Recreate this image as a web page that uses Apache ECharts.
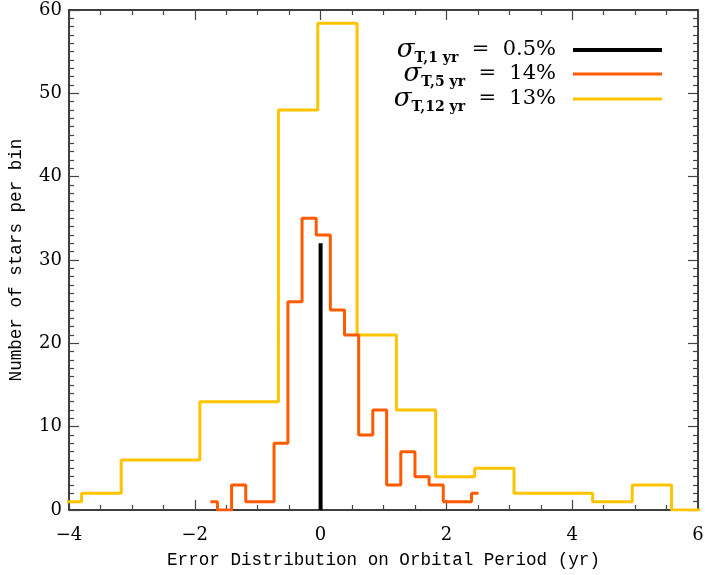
<!DOCTYPE html>
<html>
<head>
<meta charset="utf-8">
<script src="https://cdn.jsdelivr.net/npm/echarts@6/dist/echarts.min.js"></script>
<style>html,body{margin:0;padding:0;background:#fff}#c{width:705px;height:575px}</style>
</head>
<body>
<div id="c"></div>
<script>
// 12-yr sample histogram (bin centres, counts)
const yellowCenters = [-4.11, -3.49, -2.85, -2.23, -1.61, -0.98, -0.36, 0.27, 0.89, 1.52, 2.14, 2.76, 3.39, 4.01, 4.64, 5.27, 5.89, 6.51];
const yellowCounts  = [1, 2, 6, 6, 13, 13, 48, 58.4, 21, 12, 4, 5, 2, 2, 1, 3, 0, 0];
// 5-yr sample histogram
const orangeCenters = [-1.75, -1.53, -1.30, -1.08, -0.85, -0.63, -0.41, -0.18, 0.04, 0.27, 0.49, 0.72, 0.94, 1.16, 1.39, 1.61, 1.84, 2.06, 2.29, 2.51];
const orangeCounts  = [1, 0, 3, 1, 1, 8, 25, 35, 33, 24, 21, 9, 12, 3, 7, 4, 3, 1, 1, 2];
// 1-yr sample (very narrow spike)
const blackX = [0, 0];
const blackY = [0, 32];

const legendLabels = [
  {sub: 'T,1 yr', val: '0.5%'},
  {sub: 'T,5 yr', val: '14%'},
  {sub: 'T,12 yr', val: '13%'}
];
const seriesColors = ['#000000', '#ff5a00', '#ffc300'];

const xTitle = 'Error Distribution on Orbital Period (yr)';
const yTitle = 'Number of stars per bin';

function zip(a, b) { return a.map((v, i) => [v, b[i]]); }
const fmt = v => v < 0 ? '\u2212' + Math.abs(v) : String(v);

const chart = echarts.init(document.getElementById('c'));

const axisLine = {show: true, onZero: false, lineStyle: {color: '#000', width: 1.5}};
const tick = {show: true, inside: true, length: 10, lineStyle: {color: '#444', width: 1.2}};
const labelFont = {fontFamily: 'DejaVu Serif', fontSize: 18, color: '#000'};

const legendGraphics = [];
const rowY = [50, 74, 99];
legendLabels.forEach((l, i) => {
  legendGraphics.push({
    type: 'text', x: 556, y: rowY[i],
    style: {
      text: '{s|\u03c3}{sub|' + l.sub + '}{m|  =  ' + l.val + '}',
      align: 'right', verticalAlign: 'middle',
      rich: {
        s: {fontFamily: 'DejaVu Serif', fontStyle: 'italic', fontSize: 26, lineHeight: 30, verticalAlign: 'middle', fill: '#000'},
        sub: {fontFamily: 'DejaVu Serif', fontWeight: 'bold', fontSize: 14, lineHeight: 30, verticalAlign: 'bottom', fill: '#000'},
        m: {fontFamily: 'DejaVu Serif', fontSize: 21, lineHeight: 30, verticalAlign: 'middle', fill: '#000'}
      }
    }
  });
  legendGraphics.push({
    type: 'line', shape: {x1: 573, y1: rowY[i], x2: 662, y2: rowY[i]},
    style: {stroke: seriesColors[i], lineWidth: i === 0 ? 4 : 3}
  });
});

chart.setOption({
  animation: false,
  backgroundColor: '#fff',
  grid: {left: 69, right: 7, top: 10, bottom: 65, containLabel: false, outerBoundsMode: 'none'},
  xAxis: [
    {type: 'value', min: -4, max: 6, interval: 2, position: 'bottom',
     name: xTitle, nameLocation: 'middle', nameGap: 41,
     nameTextStyle: {fontFamily: 'Liberation Mono', fontSize: 17.6, color: '#000'},
     axisLine: axisLine, axisTick: tick,
     minorTick: {show: true, splitNumber: 4, length: 5, lineStyle: {color: '#444', width: 1.2}},
     axisLabel: Object.assign({margin: 16, formatter: fmt}, labelFont),
     splitLine: {show: false}, minorSplitLine: {show: false}},
    {type: 'value', min: -4, max: 6, interval: 2, position: 'top',
     axisLine: axisLine, axisTick: tick,
     minorTick: {show: true, splitNumber: 4, length: 5, lineStyle: {color: '#444', width: 1.2}},
     axisLabel: {show: false}, splitLine: {show: false}}
  ],
  yAxis: [
    {type: 'value', min: 0, max: 60, interval: 10, position: 'left',
     name: yTitle, nameLocation: 'middle', nameGap: 44, nameRotate: 90,
     nameTextStyle: {fontFamily: 'Liberation Mono', fontSize: 17.6, color: '#000'},
     axisLine: axisLine, axisTick: tick,
     minorTick: {show: true, splitNumber: 10, length: 5, lineStyle: {color: '#444', width: 1.2}},
     axisLabel: Object.assign({margin: 7, formatter: fmt}, labelFont),
     splitLine: {show: false}},
    {type: 'value', min: 0, max: 60, interval: 10, position: 'right',
     axisLine: axisLine, axisTick: tick,
     minorTick: {show: true, splitNumber: 10, length: 5, lineStyle: {color: '#444', width: 1.2}},
     axisLabel: {show: false}, splitLine: {show: false}}
  ],
  series: [
    {type: 'line', step: 'middle', data: zip(yellowCenters, yellowCounts), showSymbol: false, symbol: 'none',
     lineStyle: {color: seriesColors[2], width: 3}, clip: true, z: 2},
    {type: 'line', step: 'middle', data: zip(orangeCenters, orangeCounts), showSymbol: false, symbol: 'none',
     lineStyle: {color: seriesColors[1], width: 3}, clip: true, z: 3},
    {type: 'line', data: zip(blackX, blackY), showSymbol: false, symbol: 'none',
     lineStyle: {color: seriesColors[0], width: 4}, clip: true, z: 4}
  ],
  graphic: legendGraphics
});
</script>
</body>
</html>
